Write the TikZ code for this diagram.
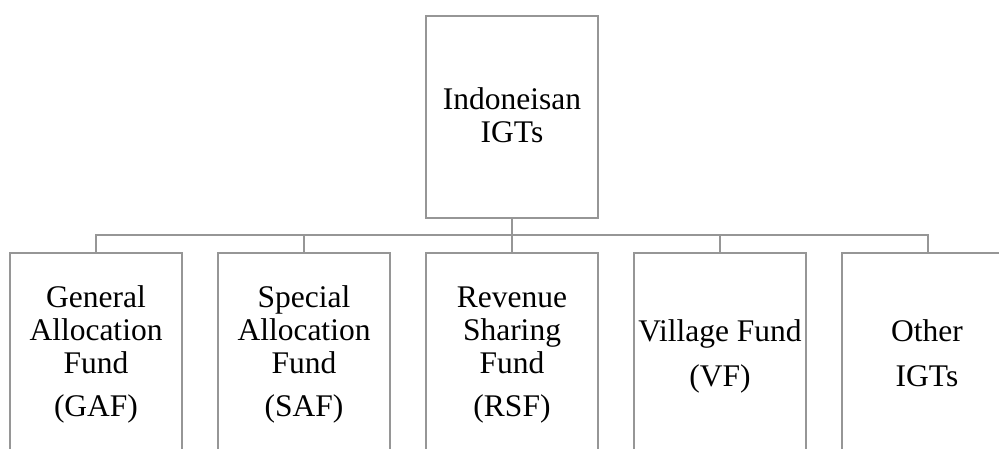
\documentclass[tikz,border=0pt]{standalone}
\usepackage{fontspec}
\setmainfont{Liberation Serif}
\definecolor{linegray}{RGB}{150,150,150}
\begin{document}
\begin{tikzpicture}[x=1pt,y=-1pt,
  box/.style={draw=linegray,line width=2.2pt,fill=white,minimum width=172pt,inner sep=0pt,outer sep=0pt},
  conn/.style={draw=linegray,line width=2.2pt},
  txt/.style={anchor=base,inner sep=0pt,font=\fontsize{31.5}{33}\selectfont}]
\useasboundingbox (0,0) rectangle (999,449);
\clip (0,0) rectangle (999,449);
\fill[white] (0,0) rectangle (999,449);
% boxes
\node[box,minimum height=202pt] (igt) at (512,116.7) {};
\node[box,minimum height=217pt] (gaf) at (96,361.5) {};
\node[box,minimum height=217pt] (saf) at (304,361.5) {};
\node[box,minimum height=217pt] (rsf) at (512,361.5) {};
\node[box,minimum height=217pt] (vf) at (720,361.5) {};
\node[box,minimum height=217pt] (oth) at (928,361.5) {};
\coordinate (bus) at (512,235);
% connectors
\draw[conn] (igt.south) -- (bus);
\draw[conn] (bus) -| (gaf.north);
\draw[conn] (bus) -| (saf.north);
\draw[conn] (bus) -- (rsf.north);
\draw[conn] (bus) -| (vf.north);
\draw[conn] (bus) -| (oth.north);
% texts
\node[txt] (t1) at (512,110) {Indoneisan};
\node[txt] (t2) at (512,142.7) {IGTs};
\node[txt] (g1) at (96,308) {General};
\node[txt] (g2) at (96,340.7) {Allocation};
\node[txt] (g3) at (96,373.3) {Fund};
\node[txt] (g4) at (96,416.7) {(GAF)};
\node[txt] (s1) at (304,307) {Special};
\node[txt] (s2) at (304,340.7) {Allocation};
\node[txt] (s3) at (304,373.3) {Fund};
\node[txt] (s4) at (304,416.7) {(SAF)};
\node[txt] (r1) at (512,307.3) {Revenue};
\node[txt] (r2) at (512,340.3) {Sharing};
\node[txt] (r3) at (512,373.3) {Fund};
\node[txt] (r4) at (512,416.7) {(RSF)};
\node[txt] (v1) at (720,341) {Village Fund};
\node[txt] (v2) at (720,386.7) {(VF)};
\node[txt] (o1) at (927,341.7) {Other};
\node[txt] (o2) at (927,386.7) {IGTs};
\end{tikzpicture}
\end{document}
